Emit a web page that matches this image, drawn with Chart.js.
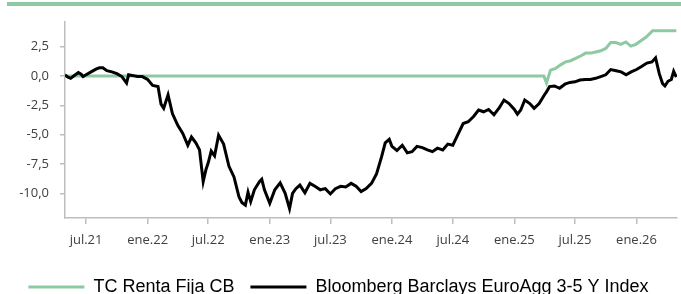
<!DOCTYPE html>
<html>
<head>
<meta charset="utf-8">
<script src="https://cdn.jsdelivr.net/npm/chart.js@4.4.1/dist/chart.umd.min.js"></script>
<style>
  html, body { margin: 0; padding: 0; background: #fff; overflow: hidden; }
  #wrap { position: relative; width: 681px; height: 306px; }
  #topBar { position: absolute; left: 7px; top: 2px; width: 674px; height: 0; border-top: 4px solid #8dc9a1; }
</style>
</head>
<body>
<div id="wrap">
  <div id="topBar"></div>
  <canvas id="perfChart" width="681" height="306"></canvas>
</div>
<script>
// tick labels
const xTickDates = ['2021-07-01', '2022-01-01', '2022-07-01', '2023-01-01', '2023-07-01',
  '2024-01-01', '2024-07-01', '2025-01-01', '2025-07-01', '2026-01-01'];
const xTickLabels = ['jul.21', 'ene.22', 'jul.22', 'ene.23', 'jul.23',
  'ene.24', 'jul.24', 'ene.25', 'jul.25', 'ene.26'];
const yTickValues = [-10, -7.5, -5, -2.5, 0, 2.5];

// Bloomberg Barclays EuroAgg 3-5 Y Index
const indexDates = [
  '2021-04-29', '2021-05-08', '2021-05-16', '2021-05-25', '2021-06-01', '2021-06-08', '2021-06-16', '2021-06-22',
  '2021-07-01', '2021-07-16', '2021-08-01', '2021-08-10', '2021-08-20', '2021-09-01', '2021-09-16', '2021-10-01',
  '2021-10-16', '2021-10-30', '2021-11-05', '2021-11-16', '2021-12-01', '2021-12-16', '2022-01-01', '2022-01-16',
  '2022-02-01', '2022-02-10', '2022-02-18', '2022-03-03', '2022-03-16', '2022-04-01', '2022-04-16', '2022-05-01',
  '2022-05-12', '2022-05-25', '2022-06-05', '2022-06-16', '2022-06-24', '2022-07-01', '2022-07-10', '2022-07-20',
  '2022-08-01', '2022-08-16', '2022-09-01', '2022-09-16', '2022-10-01', '2022-10-10', '2022-10-20', '2022-10-28',
  '2022-11-05', '2022-11-16', '2022-12-01', '2022-12-08', '2022-12-16', '2023-01-01', '2023-01-16', '2023-02-01',
  '2023-02-16', '2023-03-01', '2023-03-10', '2023-03-20', '2023-04-01', '2023-04-16', '2023-05-01', '2023-05-16',
  '2023-06-01', '2023-06-16', '2023-07-01', '2023-07-16', '2023-08-01', '2023-08-16', '2023-09-01', '2023-09-16',
  '2023-10-01', '2023-10-16', '2023-11-01', '2023-11-16', '2023-12-01', '2023-12-12', '2023-12-24', '2024-01-01',
  '2024-01-16', '2024-02-01', '2024-02-16', '2024-03-01', '2024-03-16', '2024-04-01', '2024-04-16', '2024-05-01',
  '2024-05-16', '2024-06-01', '2024-06-16', '2024-07-01', '2024-07-16', '2024-08-01', '2024-08-16', '2024-09-01',
  '2024-09-16', '2024-10-01', '2024-10-16', '2024-11-01', '2024-11-16', '2024-12-01', '2024-12-16', '2025-01-01',
  '2025-01-10', '2025-01-20', '2025-02-01', '2025-02-16', '2025-03-01', '2025-03-16', '2025-04-01', '2025-04-07',
  '2025-04-16', '2025-05-01', '2025-05-16', '2025-06-01', '2025-06-16', '2025-07-01', '2025-07-16', '2025-08-01',
  '2025-08-16', '2025-09-01', '2025-09-16', '2025-10-01', '2025-10-16', '2025-11-01', '2025-11-16', '2025-12-01',
  '2025-12-16', '2026-01-01', '2026-01-16', '2026-02-01', '2026-02-16', '2026-02-27', '2026-03-10', '2026-03-20',
  '2026-03-27', '2026-04-05', '2026-04-15', '2026-04-22', '2026-04-30'
];
const indexValues = [
  0.1, -0.1, -0.2, 0.0, 0.15, 0.3, 0.15, -0.05,
  0.1, 0.35, 0.6, 0.7, 0.7, 0.45, 0.35, 0.2,
  -0.05, -0.6, 0.1, 0.05, -0.05, -0.05, -0.3, -0.8,
  -0.9, -2.4, -2.75, -1.6, -3.2, -4.2, -4.9, -5.9,
  -5.2, -5.7, -6.3, -9.0, -8.0, -7.4, -6.4, -6.8,
  -5.05, -5.8, -7.7, -8.6, -10.3, -10.8, -11.0, -9.9,
  -10.7, -9.7, -9.0, -8.8, -9.7, -10.85, -9.7, -9.1,
  -10.0, -11.3, -10.0, -9.6, -9.3, -9.95, -9.15, -9.4,
  -9.7, -9.6, -10.05, -9.6, -9.4, -9.45, -9.15, -9.4,
  -9.85, -9.6, -9.15, -8.35, -6.9, -5.7, -5.4, -6.0,
  -6.35, -5.9, -6.55, -6.45, -6.0, -6.1, -6.3, -6.45,
  -6.15, -6.3, -5.8, -5.9, -5.0, -4.05, -3.9, -3.45,
  -2.9, -3.05, -2.85, -3.3, -2.75, -2.05, -2.35, -2.85,
  -3.25, -2.9, -2.05, -2.35, -2.75, -2.35, -1.6, -1.35,
  -0.9, -0.85, -1.05, -0.7, -0.55, -0.5, -0.35, -0.3,
  -0.3, -0.2, -0.05, 0.1, 0.55, 0.45, 0.35, 0.1,
  0.35, 0.55, 0.8, 1.1, 1.2, 1.55, 0.2, -0.65,
  -0.85, -0.45, -0.3, 0.4, -0.1
];

// TC Renta Fija CB
const fundDates = [
  '2021-04-29', '2025-03-30', '2025-04-07', '2025-04-19', '2025-05-04', '2025-05-19', '2025-06-03', '2025-06-18',
  '2025-07-03', '2025-07-18', '2025-08-02', '2025-08-17', '2025-09-01', '2025-09-16', '2025-10-01', '2025-10-16',
  '2025-10-31', '2025-11-15', '2025-11-30', '2025-12-15', '2025-12-30', '2026-01-14', '2026-01-29', '2026-02-18',
  '2026-04-30'
];
const fundValues = [
  0, 0, -0.6, 0.5, 0.65, 0.95, 1.2, 1.3,
  1.5, 1.7, 1.95, 1.95, 2.05, 2.15, 2.35, 2.85,
  2.85, 2.7, 2.9, 2.55, 2.7, 3.0, 3.3, 3.85,
  3.85
];

const dayNum = s => Date.UTC(+s.slice(0, 4), +s.slice(5, 7) - 1, +s.slice(8, 10)) / 86400000;
const toPoints = (dates, vals) => dates.map((d, i) => ({ x: dayNum(d), y: vals[i] }));

const tickFont = { family: 'Open Sans', size: 13 };
const axisGrey = '#bdbdbd';

new Chart(document.getElementById('perfChart'), {
  type: 'line',
  data: {
    datasets: [{
      label: 'Bloomberg Barclays EuroAgg 3-5 Y Index',
      data: toPoints(indexDates, indexValues),
      borderColor: '#000',
      backgroundColor: '#000',
      borderWidth: 3,
      pointRadius: 0,
      tension: 0
    }, {
      label: 'TC Renta Fija CB',
      data: toPoints(fundDates, fundValues),
      borderColor: '#8dc9a1',
      backgroundColor: '#8dc9a1',
      borderWidth: 3,
      pointRadius: 0,
      tension: 0
    }]
  },
  options: {
    responsive: false,
    animation: false,
    layout: { padding: { top: 22, right: 4, left: 0, bottom: 0 } },
    scales: {
      x: {
        type: 'linear',
        min: dayNum('2021-04-29'),
        max: dayNum('2026-05-02'),
        afterBuildTicks: scale => { scale.ticks = xTickDates.map(d => ({ value: dayNum(d) })); },
        afterFit: scale => { scale.height = 44; },
        ticks: {
          autoSkip: false,
          maxRotation: 0,
          padding: 8,
          color: '#404040',
          font: tickFont,
          callback: (v, i) => xTickLabels[i]
        },
        grid: { drawOnChartArea: false, drawTicks: true, tickLength: 6, color: axisGrey, lineWidth: 1.5 },
        border: { display: true, color: axisGrey, width: 1.5 }
      },
      y: {
        min: -12.1,
        max: 4.6,
        afterBuildTicks: scale => { scale.ticks = yTickValues.map(v => ({ value: v })); },
        afterFit: scale => { scale.width = 65; },
        ticks: {
          padding: 11,
          color: '#404040',
          font: tickFont,
          callback: v => v.toFixed(1).replace('.', ',')
        },
        grid: { drawOnChartArea: false, drawTicks: true, tickLength: 5, color: axisGrey, lineWidth: 1.5 },
        border: { display: true, color: axisGrey, width: 1.5 }
      }
    },
    plugins: {
      tooltip: { enabled: false },
      legend: {
        display: true,
        position: 'bottom',
        labels: {
          usePointStyle: true,
          pointStyle: 'line',
          pointStyleWidth: 56,
          padding: 16,
          color: '#000',
          font: { family: 'Liberation Sans', size: 18 },
          sort: (a, b) => b.datasetIndex - a.datasetIndex
        }
      }
    }
  }
});
</script>
</body>
</html>
